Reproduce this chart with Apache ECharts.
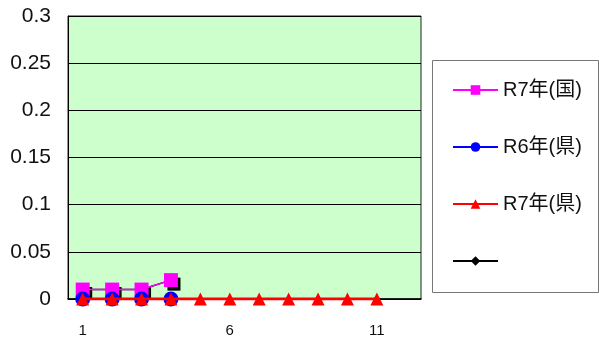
<!DOCTYPE html>
<html><head><meta charset="utf-8">
<script src="https://cdn.jsdelivr.net/npm/echarts@6/dist/echarts.min.js"></script>
<style>html,body{margin:0;padding:0;background:#fff}#c{width:599px;height:338px}</style>
</head><body><div id="c"></div>
<script>
const categories = ['1','2','3','4','5','6','7','8','9','10','11','12'];
const r7Kuni = [0.01, 0.01, 0.01, 0.02];
const r6Ken = [0, 0, 0, 0];
const r7Ken = [0, 0, 0, 0, 0, 0, 0, 0, 0, 0, 0];
const blackSeries = [0.01, 0.01, 0.01, 0.02];
const yTicks = [0, 0.05, 0.1, 0.15, 0.2, 0.25, 0.3];

const chart = echarts.init(document.getElementById('c'));
const font = 'Arial, "Liberation Sans", "Noto Sans CJK JP", sans-serif';
chart.setOption({
  animation: false,
  textStyle: {fontFamily: font},
  grid: {left: 68, right: 178, top: 16, bottom: 38, show: true, backgroundColor: '#ccffcc', borderColor: '#222', borderWidth: 1},
  graphic: [{type: 'rect', left: 432, top: 60, shape: {width: 166, height: 232},
             style: {fill: '#fff', stroke: '#777', lineWidth: 1}, z: -1}],
  legend: {
    orient: 'vertical', left: 452, top: 80,
    padding: 0,
    itemGap: 37, itemWidth: 45, itemHeight: 12,
    textStyle: {fontSize: 20, color: '#111', fontFamily: font},
    data: ['R7年(国)', 'R6年(県)', 'R7年(県)', ' ']
  },
  xAxis: {
    type: 'category', data: categories, boundaryGap: true,
    axisLine: {lineStyle: {color: '#000', width: 1.5}},
    axisTick: {inside: true, length: 5, lineStyle: {color: '#000'}},
    axisLabel: {interval: 4, margin: 24, fontSize: 15, color: '#111'},
    splitLine: {show: false}
  },
  yAxis: {
    type: 'value', min: 0, max: 0.3, interval: 0.05,
    axisLine: {show: true, lineStyle: {color: '#000'}},
    axisTick: {show: true, inside: true, length: 4, lineStyle: {color: '#000'}},
    axisLabel: {fontSize: 21, color: '#111', margin: 17, formatter: v => String(yTicks.find(t => Math.abs(t - v) < 1e-9) ?? v)},
    splitLine: {lineStyle: {color: '#000', width: 1}}
  },
  series: [
    {name: ' ', type: 'line', data: blackSeries.map(v => ({value: v, symbol: 'rect', symbolSize: 13, symbolOffset: [3, 4]})),
     symbol: 'diamond', symbolSize: 9,
     itemStyle: {color: '#000'}, lineStyle: {color: '#000', width: 1.5}, z: 2},
    {name: 'R7年(国)', type: 'line', data: r7Kuni, symbol: 'rect', symbolSize: 14,
     itemStyle: {color: '#ff00ff'}, lineStyle: {color: '#ff00ff', width: 1.5}, z: 3},
    {name: 'R6年(県)', type: 'line', data: r6Ken, symbol: 'circle', symbolSize: 15,
     itemStyle: {color: '#0000ff'}, lineStyle: {color: '#0000ff', width: 1.5}, z: 4},
    {name: 'R7年(県)', type: 'line', data: r7Ken, symbol: 'triangle', symbolSize: 13,
     itemStyle: {color: '#ff0000'}, lineStyle: {color: '#ff0000', width: 3}, z: 5}
  ]
});
</script></body></html>
